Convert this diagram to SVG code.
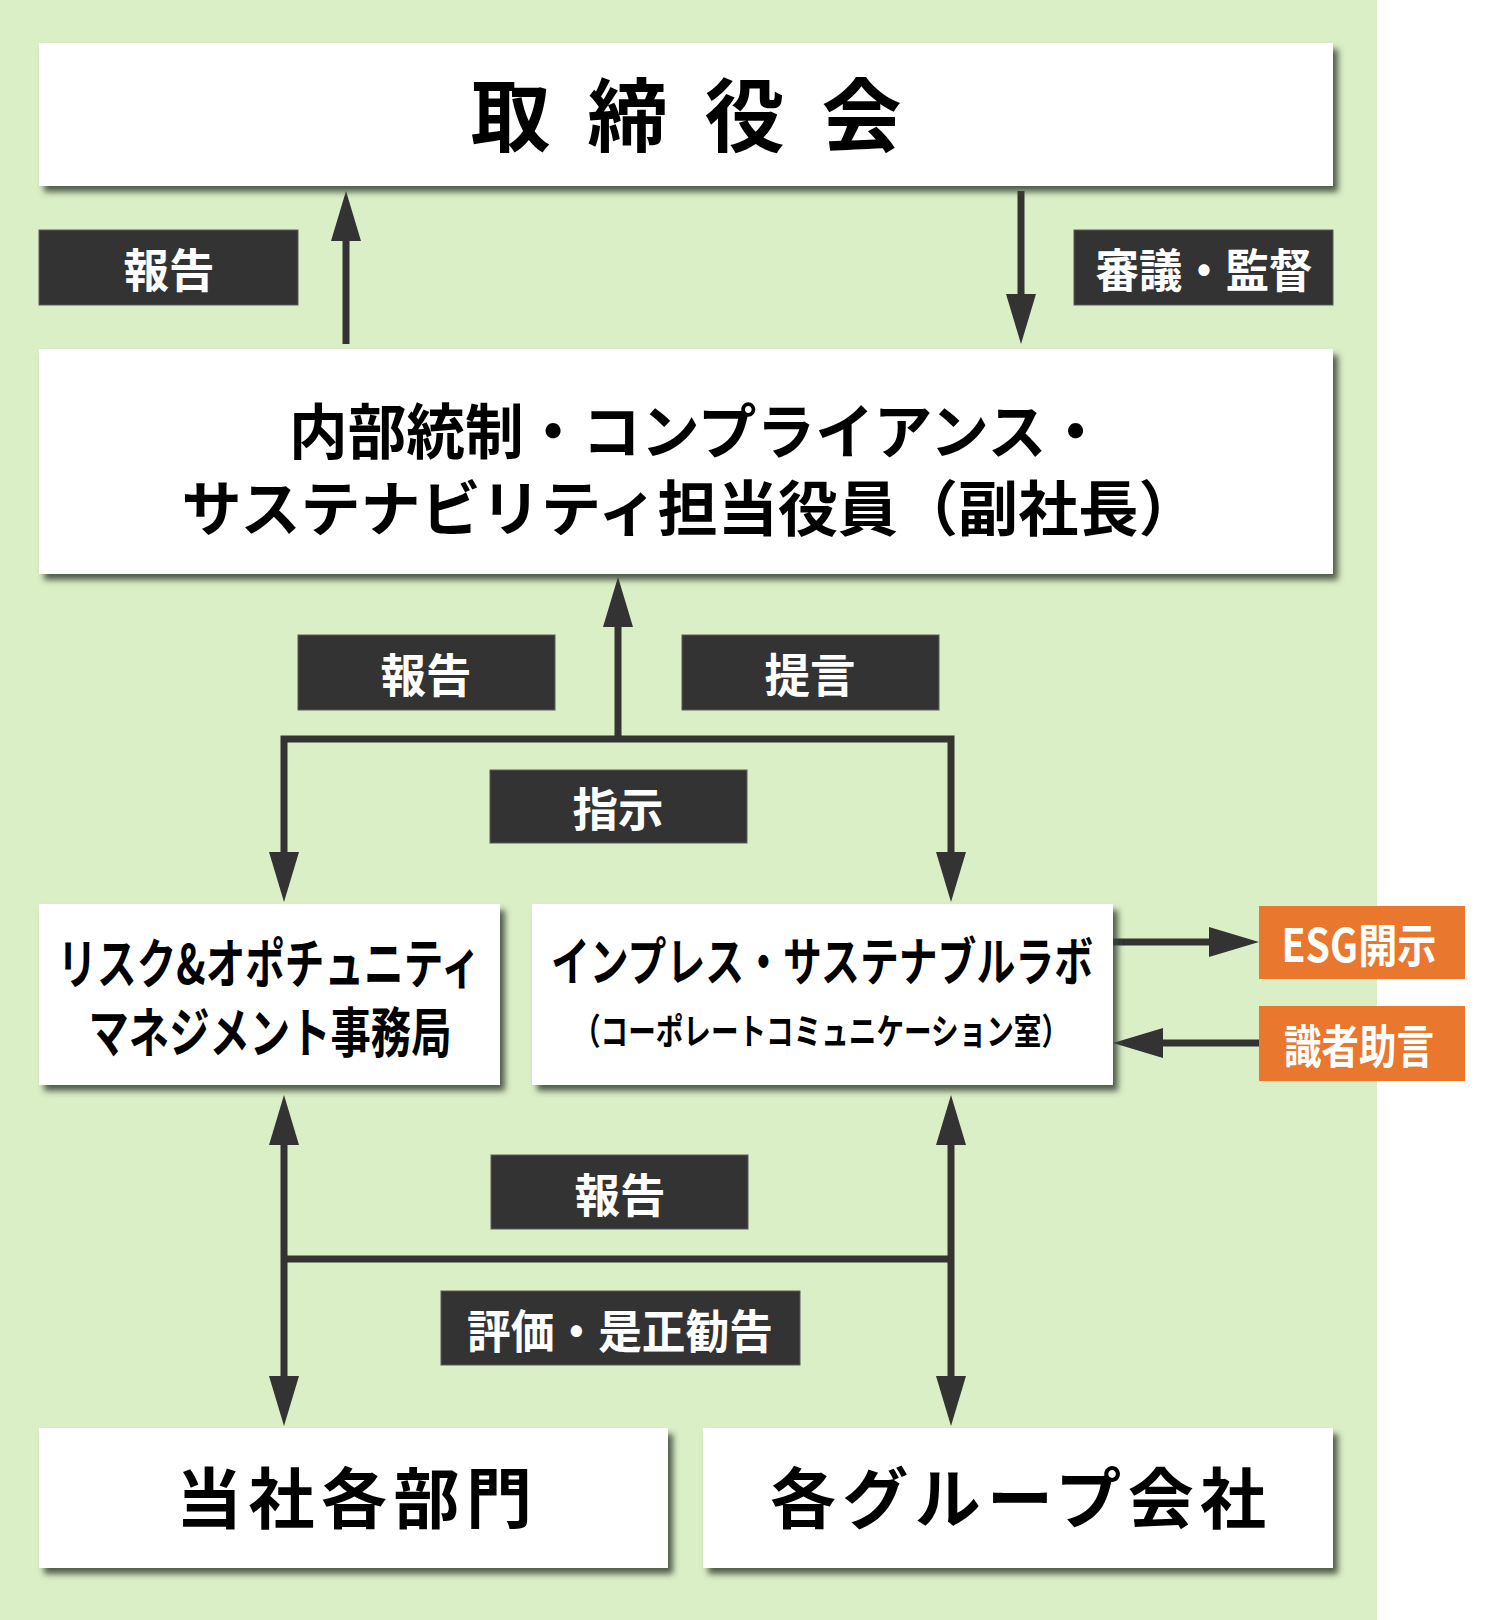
<svg xmlns="http://www.w3.org/2000/svg" width="1497" height="1620" viewBox="0 0 1497 1620">
<defs>
<style>
.node{fill:#ffffff;filter:url(#sh)}
.lbl{fill:#333333;stroke:#5a5a5a;stroke-width:1}
.org{fill:#ea772e}
.t{font-family:"Noto Sans CJK JP","Noto Sans",sans-serif;font-weight:700;text-anchor:middle;dominant-baseline:central}
.tb{fill:#000000}
.tw{fill:#ffffff}
.ln{stroke:#333333;stroke-width:7;fill:none}
</style>
<filter id="sh" x="-5%" y="-10%" width="115%" height="130%">
<feDropShadow dx="5" dy="6" stdDeviation="3" flood-color="#3a4232" flood-opacity="0.85"/>
</filter>
<marker id="ah" viewBox="0 0 50 30" refX="30" refY="15" markerWidth="50" markerHeight="30" markerUnits="userSpaceOnUse" orient="auto-start-reverse">
<path d="M0,0 L50,15 L0,30 Z" fill="#333333"/>
</marker>
</defs>
<rect x="0" y="0" width="1377" height="1620" fill="#dbefc7"/>

<g id="connectors">
<line class="ln" x1="346" y1="344" x2="346" y2="211" marker-end="url(#ah)"/>
<line class="ln" x1="1021" y1="191" x2="1021" y2="324" marker-end="url(#ah)"/>
<line class="ln" x1="618" y1="742" x2="618" y2="597" marker-end="url(#ah)"/>
<polyline class="ln" points="284,882 284,739 951,739 951,882" />
<line class="ln" x1="284" y1="870" x2="284" y2="882" marker-end="url(#ah)"/>
<line class="ln" x1="951" y1="870" x2="951" y2="882" marker-end="url(#ah)"/>
<line class="ln" x1="1113" y1="942" x2="1239" y2="942" marker-end="url(#ah)"/>
<line class="ln" x1="1259" y1="1043" x2="1133" y2="1043" marker-end="url(#ah)"/>
<line class="ln" x1="284" y1="1115" x2="284" y2="1406" marker-start="url(#ah)" marker-end="url(#ah)"/>
<line class="ln" x1="951" y1="1115" x2="951" y2="1406" marker-start="url(#ah)" marker-end="url(#ah)"/>
<line class="ln" x1="284" y1="1259" x2="951" y2="1259"/>
</g>

<g id="board">
<rect class="node" x="39" y="43" width="1294" height="143"/>
<text class="t tb" x="686" y="110" font-size="80" textLength="431" lengthAdjust="spacing">取締役会</text>
</g>

<g id="label-report-top">
<rect class="lbl" x="39" y="230" width="259" height="75"/>
<text class="t tw" x="169" y="267" font-size="46" textLength="91" lengthAdjust="spacingAndGlyphs">報告</text>
</g>

<g id="label-deliberation">
<rect class="lbl" x="1074" y="230" width="259" height="75"/>
<text class="t tw" x="1204" y="267" font-size="46" textLength="217" lengthAdjust="spacingAndGlyphs">審議・監督</text>
</g>

<g id="officer">
<rect class="node" x="39" y="349" width="1294" height="225"/>
<text class="t tb" x="697" y="427" font-size="60" textLength="816" lengthAdjust="spacingAndGlyphs">内部統制・コンプライアンス・</text>
<text class="t tb" x="690" y="504" font-size="60" textLength="1017" lengthAdjust="spacingAndGlyphs">サステナビリティ担当役員（副社長）</text>
</g>

<g id="label-report-mid">
<rect class="lbl" x="298" y="635" width="257" height="75"/>
<text class="t tw" x="426" y="672" font-size="46" textLength="91" lengthAdjust="spacingAndGlyphs">報告</text>
</g>

<g id="label-proposal">
<rect class="lbl" x="682" y="635" width="257" height="75"/>
<text class="t tw" x="810" y="672" font-size="46" textLength="91" lengthAdjust="spacingAndGlyphs">提言</text>
</g>

<g id="label-instruction">
<rect class="lbl" x="490" y="770" width="257" height="73"/>
<text class="t tw" x="618" y="806" font-size="46" textLength="91" lengthAdjust="spacingAndGlyphs">指示</text>
</g>

<g id="risk-office">
<rect class="node" x="39" y="904" width="461" height="181"/>
<text class="t tb" x="269" y="960" font-size="54" textLength="423" lengthAdjust="spacingAndGlyphs">リスク&amp;オポチュニティ</text>
<text class="t tb" x="270" y="1029" font-size="54" textLength="363" lengthAdjust="spacingAndGlyphs">マネジメント事務局</text>
</g>

<g id="lab">
<rect class="node" x="532" y="904" width="581" height="181"/>
<text class="t tb" x="822" y="958" font-size="52" textLength="542" lengthAdjust="spacingAndGlyphs">インプレス・サステナブルラボ</text>
<text class="t tb" x="821" y="1029" font-size="36" textLength="496" lengthAdjust="spacingAndGlyphs">（コーポレートコミュニケーション室）</text>
</g>

<g id="esg">
<rect class="org" x="1259" y="906" width="206" height="73"/>
<text class="t tw" x="1359" y="942" font-size="46" textLength="155" lengthAdjust="spacingAndGlyphs">ESG開示</text>
</g>

<g id="advice">
<rect class="org" x="1259" y="1006" width="206" height="75"/>
<text class="t tw" x="1359" y="1043" font-size="46" textLength="150" lengthAdjust="spacingAndGlyphs">識者助言</text>
</g>

<g id="label-report-low">
<rect class="lbl" x="491" y="1155" width="257" height="74"/>
<text class="t tw" x="620" y="1192" font-size="46" textLength="91" lengthAdjust="spacingAndGlyphs">報告</text>
</g>

<g id="label-evaluation">
<rect class="lbl" x="441" y="1291" width="359" height="74"/>
<text class="t tw" x="620" y="1328" font-size="46" textLength="306" lengthAdjust="spacingAndGlyphs">評価・是正勧告</text>
</g>

<g id="departments">
<rect class="node" x="39" y="1428" width="629" height="140"/>
<text class="t tb" x="354" y="1494" font-size="66" textLength="356" lengthAdjust="spacing">当社各部門</text>
</g>

<g id="group-companies">
<rect class="node" x="703" y="1428" width="630" height="140"/>
<text class="t tb" x="1018" y="1494" font-size="66" textLength="496" lengthAdjust="spacing">各グループ会社</text>
</g>
</svg>
